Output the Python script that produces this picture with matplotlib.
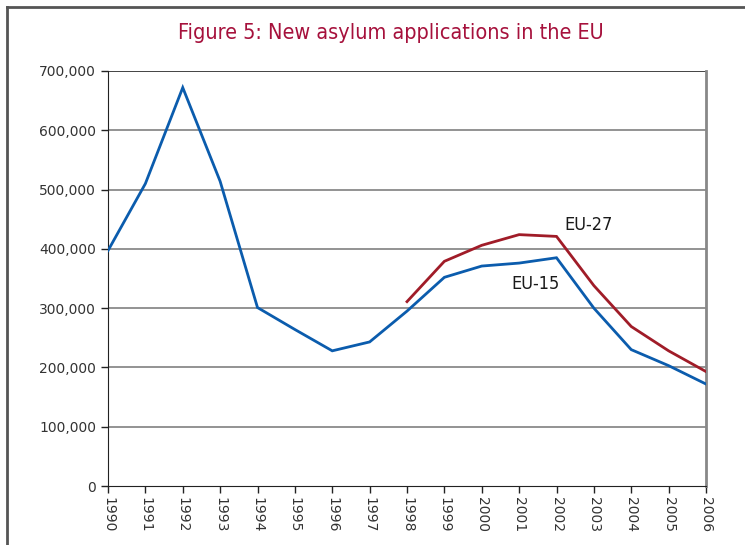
import matplotlib
matplotlib.use("Agg")
import matplotlib.pyplot as plt
from matplotlib.lines import Line2D
from matplotlib.ticker import FuncFormatter

years = list(range(1990, 2007))
eu15 = [397000, 510000, 672000, 514000, 301000, 264000, 228000, 243000, 295000,
        352000, 371000, 376000, 385000, 300000, 230000, 203000, 172000]
eu27_years = list(range(1998, 2007))
eu27 = [311000, 379000, 406000, 424000, 421000, 338000, 269000, 228000, 193000]

title = "Figure 5: New asylum applications in the EU"
yticks = [0, 100000, 200000, 300000, 400000, 500000, 600000, 700000]

fig = plt.figure(figsize=(7.45, 5.45), dpi=100)
ax = fig.add_axes([108/745, 1-486/545, (706-108)/745, (486-71)/545])

for y in yticks[1:]:
    ax.axhline(y, color="#808080" if y < 700000 else "#222222", lw=1.2, zorder=1)

ax.plot(years, eu15, color="#0B5CAD", lw=2.0, zorder=3, solid_joinstyle="miter")
ax.plot(eu27_years, eu27, color="#A01C28", lw=2.0, zorder=3, solid_joinstyle="miter")

ax.set_xlim(1990, 2006)
ax.set_ylim(0, 700000)
ax.set_yticks(yticks)
ax.set_xticks(years)
ax.yaxis.set_major_formatter(FuncFormatter(lambda v, p: f"{int(v):,}"))
ax.tick_params(axis="both", direction="out", length=5, width=1, color="#222222",
               labelcolor="#333333", labelsize=10)
ax.tick_params(axis="x", labelrotation=270, pad=3)
for lab in ax.get_xticklabels():
    lab.set_va("top")
    lab.set_ha("center")

ax.spines["left"].set_color("#222222")
ax.spines["bottom"].set_color("#222222")
ax.spines["top"].set_visible(False)
ax.spines["right"].set_color("#888888")
ax.spines["right"].set_linewidth(2)

ax.text(2002.2, 441000, "EU-27", fontsize=13, color="#1a1a1a", ha="left", va="center",
        fontstretch="condensed")
ax.text(2000.8, 340000, "EU-15", fontsize=13, color="#1a1a1a", ha="left", va="center",
        fontstretch="condensed")

fig.text(391/745, 1-33/545, title, fontsize=15.5, color="#A6113C", ha="center",
         va="center", fontstretch="condensed")

fig.add_artist(Line2D([7/745, 7/745], [0, 1-7/545], color="#555555", lw=2,
                      transform=fig.transFigure))
fig.add_artist(Line2D([7/745, 1], [1-7/545, 1-7/545], color="#555555", lw=2,
                      transform=fig.transFigure))

fig.savefig("out.png", dpi=100)
